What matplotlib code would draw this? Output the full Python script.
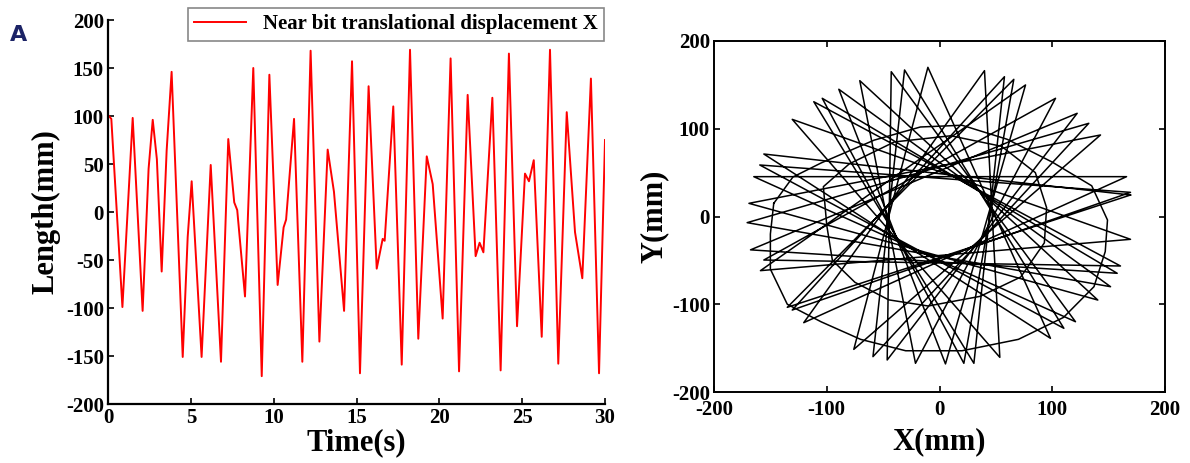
import matplotlib
matplotlib.use("Agg")
import matplotlib.pyplot as plt
import numpy as np

# --- left panel: near bit displacement X vs time (peaks / troughs / shoulders)
time_s = [0.00, 0.20, 0.87, 1.49, 2.09, 2.45, 2.70, 2.95, 3.24, 3.54, 3.84, 4.51, 4.81, 5.05,
          5.65, 6.20, 6.82, 7.26, 7.62, 7.80, 8.27, 8.77, 9.28, 9.74, 10.24, 10.60, 10.75,
          11.23, 11.73, 12.23, 12.76, 13.26, 13.64, 14.25, 14.73, 15.21, 15.73, 16.22, 16.58,
          16.70, 17.22, 17.73, 18.23, 18.73, 19.24, 19.60, 20.20, 20.68, 21.19, 21.71, 22.19,
          22.43, 22.66, 23.20, 23.70, 24.20, 24.69, 25.17, 25.41, 25.70, 26.18, 26.68, 27.18,
          27.69, 28.19, 28.63, 29.15, 29.64, 30.00]
disp_x = [101, 97, -99, 98, -103, 45, 96, 55, -62, 64, 146, -151, -26, 32,
          -151, 49, -156, 76, 10, 2, -88, 150, -171, 143, -76, -16, -8,
          97, -156, 168, -135, 65, 21, -103, 157, -168, 131, -59, -28,
          -30, 110, -159, 169, -132, 58, 29, -111, 160, -166, 122, -46,
          -32, -42, 119, -165, 165, -119, 40, 32, 54, -130, 169, -158,
          104, -21, -69, 139, -168, 75]

# --- right panel: X-Y whirl, outer tips of the rosette (sorted by angle, mm)
tip_x = [169.4, 169.4, 165.9, 142.8, 132.4, 122.1, 102.9, 76.3, 65.9, 57.6, 39.9, -10.3,
         -31.0, -42.8, -70.7, -89.3, -104.0, -111.5, -130.6, -155.8, -159.4, -164.7, -169.0,
         -170.6, -167.6, -155.8, -158.8, -135.0, -130.6, -120.4, -76.0, -59.0, -46.4, -21.3,
         5.3, 21.6, 30.5, 53.5, 98.4, 110.3, 120.6, 140.4, 151.7, 157.6, 160.5, 169.4]
tip_y = [24.5, 27.5, 45.4, 92.9, 106.2, 117.6, 134.7, 149.9, 156.3, 159.3, 166.2, 170.0,
         167.0, 165.0, 154.8, 145.0, 134.7, 130.8, 110.7, 71.2, 58.7, 45.4, 15.0,
         -7.0, -38.0, -49.6, -61.7, -103.5, -106.6, -121.0, -151.4, -159.7, -163.5, -167.3,
         -168.0, -167.3, -167.3, -160.5, -138.8, -127.4, -119.9, -95.2, -80.0, -64.7, -56.4, -26.0]

# two slower loops of the orbit
outer_x = [-147, -130, -105, -58, -17, 20, 60, 100, 135, 149, 147, 137, 110, 70, 20, -30,
           -70, -105, -135, -150, -150, -147]
outer_y = [15, 45, 61, 87, 102, 104, 88, 62, 35, -4, -40, -80, -115, -140, -153, -153,
           -140, -120, -100, -60, -20, 15]
inner_x = [-100, -95, -75, -45, -10, 36, 72, 93, 95, 85, 55, 10, -40, -80, -103, -100]
inner_y = [-10, -50, -75, -95, -102, -91, -69, -30, 10, 50, 80, 92, 85, 60, 34, -10]

plt.rcParams['font.family'] = ['Liberation Serif', 'DejaVu Serif']
plt.rcParams['font.weight'] = 'bold'
plt.rcParams['axes.labelweight'] = 'bold'
plt.rcParams['axes.unicode_minus'] = False
plt.rcParams['xtick.direction'] = 'in'
plt.rcParams['ytick.direction'] = 'in'
plt.rcParams['xtick.major.size'] = 4
plt.rcParams['ytick.major.size'] = 4
plt.rcParams['xtick.major.width'] = 1.2
plt.rcParams['ytick.major.width'] = 1.2

fig = plt.figure(figsize=(11.9, 4.63), dpi=100)

# left
ax1 = fig.add_axes([108/1190, 59/463, 497/1190, 384/463])
ax1.plot(time_s, disp_x, color='red', lw=1.4, label='Near bit translational displacement X')
ax1.set_xlim(0, 30)
ax1.set_ylim(-200, 200)
ax1.set_xticks([0, 5, 10, 15, 20, 25, 30])
ax1.set_yticks([200, 150, 100, 50, 0, -50, -100, -150, -200])
ax1.spines['top'].set_visible(False)
ax1.spines['right'].set_visible(False)
for s in ['left', 'bottom']:
    ax1.spines[s].set_linewidth(1.6)
ax1.tick_params(labelsize=15, pad=3)
ax1.set_xlabel('Time(s)', fontsize=22, labelpad=0)
ax1.set_ylabel('Length(mm)', fontsize=22, labelpad=4)
leg = ax1.legend(loc='upper right', bbox_to_anchor=(604/1190, 455/463),
                 bbox_transform=fig.transFigure, borderaxespad=0, fancybox=False,
                 fontsize=15, handlelength=2.5, borderpad=0.3, framealpha=1)
leg.get_frame().set_edgecolor('#888888')
leg.get_frame().set_linewidth(1.2)

# right: whirl path hops across the centre, ~19 tips further round each half swing
ax2 = fig.add_axes([714/1190, 71/463, 451/1190, 351/463])
n = len(tip_x)
order = [(m * 19) % n for m in range(n + 1)]
ax2.plot(np.array(tip_x)[order], np.array(tip_y)[order], color='black', lw=1.1)
ax2.plot(outer_x, outer_y, color='black', lw=1.1)
ax2.plot(inner_x, inner_y, color='black', lw=1.1)
ax2.set_xlim(-200, 200)
ax2.set_ylim(-200, 200)
ax2.set_xticks([-200, -100, 0, 100, 200])
ax2.set_yticks([-200, -100, 0, 100, 200])
for s in ax2.spines.values():
    s.set_linewidth(1.4)
ax2.tick_params(labelsize=15, top=True, right=True)
ax2.tick_params(axis='x', pad=6)
ax2.tick_params(axis='y', pad=3)
ax2.set_xlabel('X(mm)', fontsize=22, labelpad=5)
ax2.set_ylabel('Y(mm)', fontsize=22, labelpad=2)

fig.text(10/1190, 422/463, 'A', fontsize=16, fontweight='bold', color='#1c2366',
         family=['DejaVu Sans'])

fig.savefig('out.png', dpi=100)
